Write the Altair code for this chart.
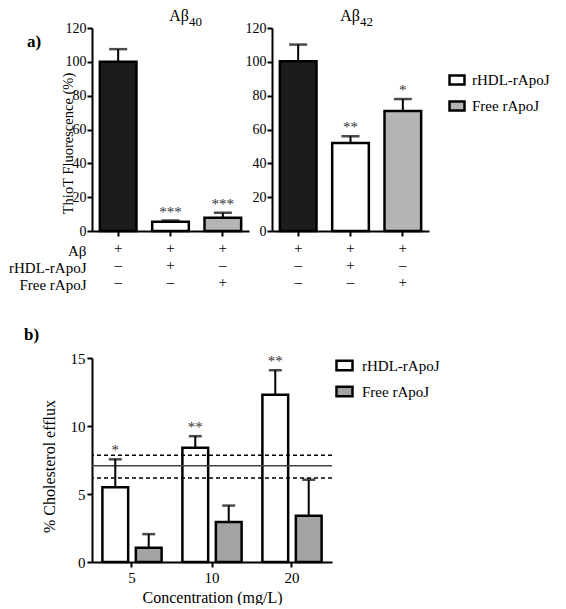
import altair as alt
import pandas as pd

FONT = "Liberation Serif"

# ---------------- panel a data ----------------
conditions = ["Aβ", "rHDL-rApoJ", "Free rApoJ"]
row_ab = ["+", "+", "+"]
row_rhdl = ["–", "+", "–"]
row_free = ["–", "–", "+"]

ab40_mean = [100.0, 5.5, 7.9]
ab40_top = [107.5, 6.2, 10.8]
ab40_star = ["", "***", "***"]

ab42_mean = [100.4, 52.0, 71.0]
ab42_top = [110.2, 56.0, 78.0]
ab42_star = ["", "**", "*"]

# ---------------- panel b data ----------------
concentrations = ["5", "10", "20"]
series = ["rHDL-rApoJ", "Free rApoJ"]
rhdl_mean = [5.5, 8.4, 12.3]
rhdl_top = [7.55, 9.25, 14.1]
rhdl_star = ["*", "**", "**"]
free_mean = [1.05, 2.95, 3.4]
free_top = [2.05, 4.15, 6.05]
control_mean = [7.08]
control_band = [6.17, 7.85]

signs = ["|".join(t) for t in zip(row_ab, row_rhdl, row_free)]

RECT = "M-1,-0.6H1V0.6H-1Z"


def title_marks(main, sub, cx):
    d = pd.DataFrame({"t": [main]})
    s = pd.DataFrame({"t": [sub]})
    m1 = alt.Chart(d).mark_text(font=FONT, fontSize=16, align="right",
                                baseline="alphabetic", color="black").encode(
        text="t:N", x=alt.value(cx), y=alt.value(-7))
    m2 = alt.Chart(s).mark_text(font=FONT, fontSize=13, align="left",
                                baseline="alphabetic", color="black").encode(
        text="t:N", x=alt.value(cx), y=alt.value(-2))
    return [m1, m2]


def panel_a(mean, top, star, main, sub, cx, first):
    df = pd.DataFrame({"cond": conditions, "signs": signs, "mean": mean,
                       "top": top, "star": star})
    xaxis_kw = dict(labelExpr="split(datum.value, '|')", labelAngle=0,
                    labelLineHeight=17, labelPadding=4, labelFontSize=15,
                    labelColor="black")
    if first:
        xaxis_kw.update(title=conditions, titleAlign="right", titleAngle=0,
                        titleX=-6, titleY=12, titleBaseline="top",
                        titleLineHeight=17, titleFontSize=15)
    else:
        xaxis_kw.update(title=None)
    x = alt.X("signs:N", sort=signs,
              scale=alt.Scale(paddingInner=0.3, paddingOuter=0.15),
              axis=alt.Axis(**xaxis_kw))
    yaxis_kw = dict(values=[0, 20, 40, 60, 80, 100, 120], labelPadding=1)
    if first:
        yaxis_kw.update(title="ThioT Fluorescence (%)", titleX=-17, titleY=115,
                        titleBaseline="bottom", titleFontSize=14.5)
    else:
        yaxis_kw.update(title=None)
    yax = alt.Axis(**yaxis_kw)
    ysc = alt.Scale(domain=[0, 120], nice=False)

    if first:
        legend = None
    else:
        legend = alt.Legend(values=series, orient="none", legendX=176, legendY=43,
                            title=None, symbolType=RECT, symbolSize=225,
                            symbolStrokeColor="black", symbolStrokeWidth=2.5,
                            labelFont=FONT, labelFontSize=15, labelColor="black",
                            rowPadding=6, labelOffset=6)
    fill = alt.Fill("cond:N", scale=alt.Scale(domain=conditions,
                                              range=["#1c1c1c", "#ffffff", "#b4b4b4"]),
                    legend=legend)

    base = alt.Chart(df)
    bars = base.mark_bar(stroke="black", strokeWidth=2.5).encode(
        x=x, y=alt.Y("mean:Q", scale=ysc, axis=yax), fill=fill)
    err = base.mark_rule(color="black", strokeWidth=2).encode(
        x=x, y=alt.Y("mean:Q", scale=ysc, axis=yax), y2="top:Q")
    cap = base.mark_tick(color="black", thickness=2.5, size=18).encode(
        x=x, y=alt.Y("top:Q", scale=ysc, axis=yax))
    stars = base.mark_text(font=FONT, fontSize=15, color="#333333", dy=-4,
                           baseline="alphabetic").encode(
        x=x, y=alt.Y("top:Q", scale=ysc, axis=yax), text="star:N")
    layers = [bars, err, cap, stars] + title_marks(main, sub, cx)
    if first:
        lab = alt.Chart(pd.DataFrame({"t": ["a)"]})).mark_text(
            font=FONT, fontSize=17, fontWeight="bold", align="left",
            baseline="middle", color="black").encode(
            text="t:N", x=alt.value(-65), y=alt.value(14))
        layers.append(lab)
    return alt.layer(*layers).properties(width=157, height=203)


a1 = panel_a(ab40_mean, ab40_top, ab40_star, "Aβ", "40", 97, True)
a2 = panel_a(ab42_mean, ab42_top, ab42_star, "Aβ", "42", 88, False)

# ---------------- panel b ----------------
dfb = pd.DataFrame({
    "conc": concentrations * 2,
    "series": [series[0]] * 3 + [series[1]] * 3,
    "mean": rhdl_mean + free_mean,
    "top": rhdl_top + free_top,
    "star": rhdl_star + [""] * 3,
})
xb = alt.X("conc:N", sort=concentrations,
           scale=alt.Scale(paddingInner=0.26, paddingOuter=0.13),
           axis=alt.Axis(title="Concentration (mg/L)", labelAngle=0, labelPadding=3,
                         labelFontSize=15, titlePadding=4, titleFontSize=16))
xo = alt.XOffset("series:N", sort=series,
                 scale=alt.Scale(paddingInner=0.23, paddingOuter=0))
ybsc = alt.Scale(domain=[0, 15], nice=False)
ybax = alt.Axis(values=[0, 5, 10, 15], title="% Cholesterol efflux", titleX=-35,
                titleY=108, titleBaseline="bottom", titleFontSize=16,
                labelFontSize=15, labelPadding=2)
fillb = alt.Fill("series:N", scale=alt.Scale(domain=series, range=["#ffffff", "#a3a3a3"]),
                 legend=alt.Legend(orient="none", legendX=243, legendY=-2, title=None,
                                   symbolType=RECT, symbolSize=256,
                                   symbolStrokeColor="black", symbolStrokeWidth=2.5,
                                   labelFont=FONT, labelFontSize=15, labelColor="black",
                                   rowPadding=5, labelOffset=8))
bb = alt.Chart(dfb)
b_bars = bb.mark_bar(stroke="black", strokeWidth=2.5).encode(
    x=xb, xOffset=xo, y=alt.Y("mean:Q", scale=ybsc, axis=ybax), fill=fillb)
b_err = bb.mark_rule(color="black", strokeWidth=2).encode(
    x=xb, xOffset=xo, y=alt.Y("mean:Q", scale=ybsc, axis=ybax), y2="top:Q")
b_cap = bb.mark_tick(color="black", thickness=2.5, size=13).encode(
    x=xb, xOffset=xo, y=alt.Y("top:Q", scale=ybsc, axis=ybax))
b_star = bb.mark_text(font=FONT, fontSize=15, color="#333333", dy=-4,
                      baseline="alphabetic").encode(
    x=xb, xOffset=xo, y=alt.Y("top:Q", scale=ybsc, axis=ybax), text="star:N")
b_solid = alt.Chart(pd.DataFrame({"mean": control_mean})).mark_rule(
    color="#444444", strokeWidth=1.5).encode(y=alt.Y("mean:Q", scale=ybsc, axis=ybax))
b_dash = alt.Chart(pd.DataFrame({"mean": control_band})).mark_rule(
    color="black", strokeWidth=1.5, strokeDash=[4, 3]).encode(
    y=alt.Y("mean:Q", scale=ybsc, axis=ybax))
b_lab = alt.Chart(pd.DataFrame({"t": ["b)"]})).mark_text(
    font=FONT, fontSize=17, fontWeight="bold", align="left", baseline="middle",
    color="black").encode(text="t:N", x=alt.value(-68), y=alt.value(-23))

b = alt.layer(b_bars, b_solid, b_dash, b_err, b_cap, b_star, b_lab).properties(
    width=240, height=204)

top = alt.hconcat(a1, a2, spacing=23, bounds="flush").resolve_scale(
    fill="independent", x="independent", y="independent").resolve_legend(fill="independent")

chart = alt.vconcat(top, b, spacing=330, bounds="flush").resolve_scale(
    fill="independent", x="independent", y="independent").resolve_legend(
    fill="independent").properties(padding=0).configure_view(stroke=None).configure_axis(
    domainColor="black", domainWidth=2, tickColor="black", tickWidth=2, tickSize=5,
    labelFont=FONT, labelFontSize=14, labelColor="black", titleFont=FONT,
    titleFontSize=15, titleFontWeight="normal", titleColor="black", grid=False)

chart.save("out.html", embed_options={"renderer": "svg", "actions": False})
